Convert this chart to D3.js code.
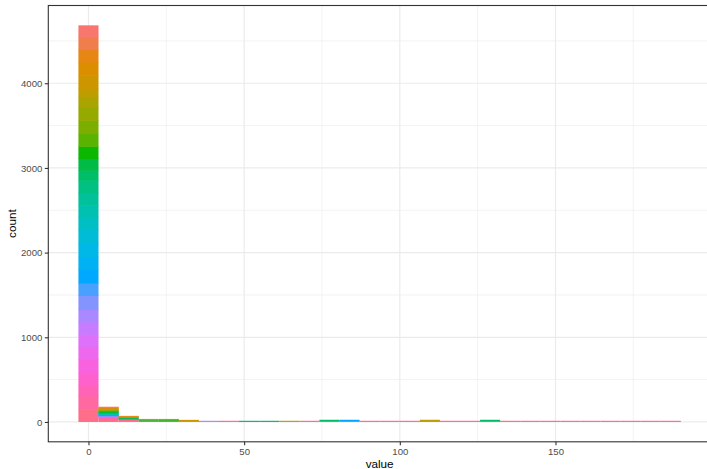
<!DOCTYPE html>
<html>
<head>
<meta charset="utf-8">
<script src="https://cdn.jsdelivr.net/npm/d3@7"></script>
<style>
  body { margin: 0; background: #fff; }
  text { font-family: "Liberation Sans", Arial, sans-serif; }
</style>
</head>
<body>
<svg id="chart"></svg>
<script>
//////////////////////////
// Data                 //
//////////////////////////
const groups = [
  "g01", "g02", "g03", "g04", "g05", "g06", "g07", "g08",
  "g09", "g10", "g11", "g12", "g13", "g14", "g15", "g16",
  "g17", "g18", "g19", "g20", "g21", "g22", "g23", "g24",
  "g25", "g26", "g27", "g28", "g29", "g30", "g31", "g32"
];
const binWidth = 6.45; // first bin centred on 0, 30 bins
const binCount = 30;

// counts per group in the first two bins (g01 ... g32)
const firstBinCounts = [130, 157, 146, 157, 157, 99, 118, 157, 157, 150, 145, 138, 118, 150, 145, 145,
  142, 165, 158, 149, 158, 149, 165, 146, 145, 150, 149, 158, 145, 126, 160, 150];
const secondBinCounts = [5, 4, 5, 6, 5, 4, 5, 6, 5, 6, 7, 6, 5, 6, 5, 5,
  3, 4, 3, 3, 4, 3, 3, 2, 2, 3, 2, 3, 3, 8, 12, 37];

// remaining non-empty cells: bin number (1-based), group, count
const tailCounts = [
  [3, "g03", 4], [3, "g05", 6], [3, "g07", 8], [3, "g12", 8], [3, "g14", 10], [3, "g31", 8], [3, "g32", 28],
  [4, "g06", 10], [4, "g13", 12], [4, "g32", 14],
  [5, "g07", 10], [5, "g12", 12], [5, "g32", 14],
  [6, "g05", 11], [6, "g32", 14],
  [7, "g24", 14],
  [8, "g32", 14],
  [9, "g13", 14],
  [10, "g13", 14],
  [11, "g06", 14],
  [12, "g32", 14],
  [13, "g13", 12], [13, "g32", 14],
  [14, "g21", 12], [14, "g32", 14],
  [15, "g32", 14], [16, "g32", 14], [17, "g32", 14],
  [18, "g06", 12], [18, "g32", 14],
  [19, "g32", 14], [20, "g32", 14],
  [21, "g13", 12], [21, "g32", 14],
  [22, "g32", 14], [23, "g32", 14], [24, "g32", 14], [25, "g32", 14],
  [26, "g32", 14], [27, "g32", 14], [28, "g32", 14], [29, "g32", 14], [30, "g32", 14]
];

const xTicks = [0, 50, 100, 150];
const xMinor = [25, 75, 125, 175];
const yTicks = [0, 1000, 2000, 3000, 4000];
const yMinor = [500, 1500, 2500, 3500, 4500];

//////////////////////////
// Chart specifications //
//////////////////////////
const W = 707, H = 469;
const panel = { left: 48.3, right: 711, top: 5.5, bottom: 441.8 };

// ggplot's default hue palette: hcl(h, c = 100, l = 65) in polar LUV
function hclLuv(h, c, l) {
  const hr = h * Math.PI / 180;
  const U = c * Math.cos(hr), V = c * Math.sin(hr);
  const Xn = 95.047, Yn = 100, Zn = 108.883;
  const Y = Yn * (l > 7.999592 ? Math.pow((l + 16) / 116, 3) : l / 903.3);
  const d = Xn + 15 * Yn + 3 * Zn;
  const u = U / (13 * l) + 4 * Xn / d;
  const v = V / (13 * l) + 9 * Yn / d;
  const X = 9 * Y * u / (4 * v);
  const Z = -X / 3 - 5 * Y + 3 * Y / v;
  const g = (t) => (t > 0.00304 ? 1.055 * Math.pow(t, 1 / 2.4) - 0.055 : 12.92 * t);
  const ch = (t) => Math.round(255 * Math.max(0, Math.min(1, g(t))));
  const r = 3.240479 * X - 1.53715 * Y - 0.498535 * Z;
  const gg = -0.969256 * X + 1.875992 * Y + 0.041556 * Z;
  const b = 0.055648 * X - 0.204043 * Y + 1.057311 * Z;
  return d3.rgb(ch(r / 100), ch(gg / 100), ch(b / 100)).formatHex();
}
const fill = d3.scaleOrdinal()
  .domain(groups)
  .range(groups.map((g, i) => hclLuv(15 + i * 360 / groups.length, 100, 65)));

// build the bin table
const table = d3.range(binCount).map((i) => {
  const row = { bin: i, x0: -binWidth / 2 + i * binWidth, x1: binWidth / 2 + i * binWidth };
  groups.forEach((g) => (row[g] = 0));
  return row;
});
groups.forEach((g, j) => {
  table[0][g] = firstBinCounts[j];
  table[1][g] = secondBinCounts[j];
});
tailCounts.forEach(([bin, g, n]) => (table[bin - 1][g] = n));

// first level on top, as ggplot stacks
const series = d3.stack().keys(groups.slice().reverse())(table);
const maxCount = d3.max(series[series.length - 1], (d) => d[1]);

const xMin = table[0].x0, xMax = table[binCount - 1].x1;
const xPad = (xMax - xMin) * 0.05;
const x = d3.scaleLinear().domain([xMin - xPad, xMax + xPad]).range([panel.left, panel.right]);
const y = d3.scaleLinear().domain([-maxCount * 0.05, maxCount * 1.05]).range([panel.bottom, panel.top]);

//////////////////////////
//// Draw the chart //////
//////////////////////////
const svg = d3.select("#chart").attr("width", W).attr("height", H);
svg.append("rect").attr("width", W).attr("height", H).attr("fill", "#fff");

const grid = svg.append("g");
grid.selectAll(".xminor").data(xMinor).join("line")
  .attr("x1", (d) => x(d)).attr("x2", (d) => x(d))
  .attr("y1", panel.top).attr("y2", panel.bottom)
  .attr("stroke", "#EBEBEB").attr("stroke-width", 0.6);
grid.selectAll(".yminor").data(yMinor).join("line")
  .attr("y1", (d) => y(d)).attr("y2", (d) => y(d))
  .attr("x1", panel.left).attr("x2", panel.right)
  .attr("stroke", "#EBEBEB").attr("stroke-width", 0.6);
grid.selectAll(".xmajor").data(xTicks).join("line")
  .attr("x1", (d) => x(d)).attr("x2", (d) => x(d))
  .attr("y1", panel.top).attr("y2", panel.bottom)
  .attr("stroke", "#EBEBEB").attr("stroke-width", 1.2);
grid.selectAll(".ymajor").data(yTicks).join("line")
  .attr("y1", (d) => y(d)).attr("y2", (d) => y(d))
  .attr("x1", panel.left).attr("x2", panel.right)
  .attr("stroke", "#EBEBEB").attr("stroke-width", 1.2);

// stacked bars (each upper slice runs a little under the one below to hide seams)
svg.append("g")
  .selectAll("g")
  .data(series)
  .join("g")
  .attr("fill", (s) => fill(s.key))
  .selectAll("rect")
  .data((s) => s.filter((d) => d[1] > d[0]))
  .join("rect")
  .attr("x", (d) => x(d.data.x0))
  .attr("width", (d) => x(d.data.x1) - x(d.data.x0))
  .attr("y", (d) => y(d[1]))
  .attr("height", (d) => y(d[0]) - y(d[1]) + (d[0] > 0 ? 0.6 : 0));

// panel border
svg.append("rect")
  .attr("x", panel.left).attr("y", panel.top)
  .attr("width", panel.right - panel.left).attr("height", panel.bottom - panel.top)
  .attr("fill", "none").attr("stroke", "#333333").attr("stroke-width", 1.1);

// axes
const xAxis = (g) =>
  g.attr("transform", `translate(0,${panel.bottom})`)
    .call(d3.axisBottom(x).tickValues(xTicks).tickFormat(d3.format("d")).tickSize(3.5).tickPadding(3))
    .call((g) => g.select(".domain").remove())
    .call((g) => g.selectAll(".tick line").attr("stroke", "#333333").attr("stroke-width", 1.1))
    .call((g) => g.selectAll(".tick text").attr("fill", "#4D4D4D")
      .style("font-size", "9.6px").style("font-family", "Liberation Sans, Arial, sans-serif"));
const yAxis = (g) =>
  g.attr("transform", `translate(${panel.left},0)`)
    .call(d3.axisLeft(y).tickValues(yTicks).tickFormat(d3.format("d")).tickSize(3.5).tickPadding(2.5))
    .call((g) => g.select(".domain").remove())
    .call((g) => g.selectAll(".tick line").attr("stroke", "#333333").attr("stroke-width", 1.1))
    .call((g) => g.selectAll(".tick text").attr("fill", "#4D4D4D")
      .style("font-size", "9.6px").style("font-family", "Liberation Sans, Arial, sans-serif"));
svg.append("g").call(xAxis);
svg.append("g").call(yAxis);

// axis titles
svg.append("text")
  .attr("x", (panel.left + panel.right) / 2).attr("y", 468)
  .attr("text-anchor", "middle").attr("fill", "#000")
  .style("font-size", "11.7px")
  .text("value");
svg.append("text")
  .attr("transform", `translate(16,${(panel.top + panel.bottom) / 2}) rotate(-90)`)
  .attr("text-anchor", "middle").attr("fill", "#000")
  .style("font-size", "11.7px")
  .text("count");
</script>
</body>
</html>
